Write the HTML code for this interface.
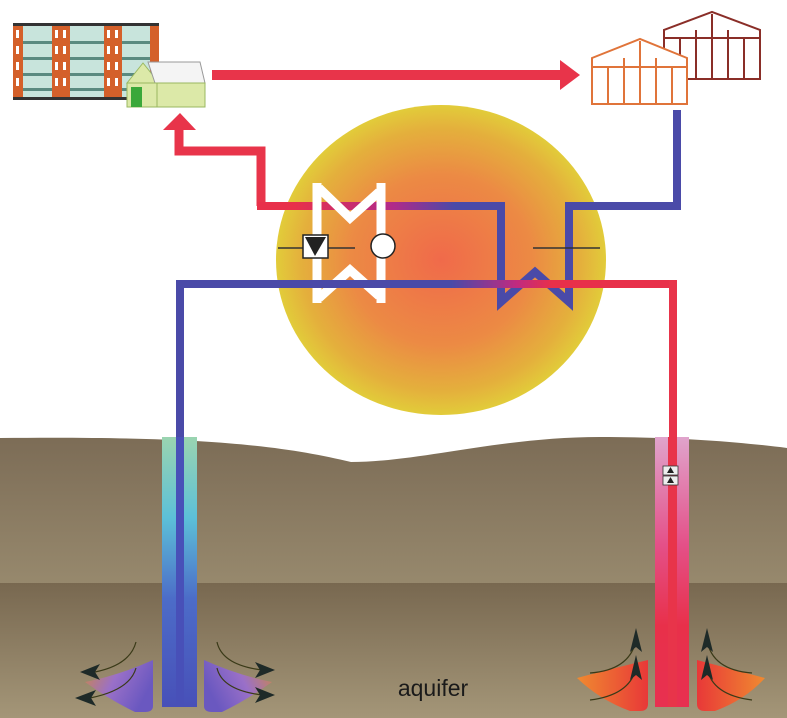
<!DOCTYPE html>
<html><head><meta charset="utf-8"><style>html,body{margin:0;padding:0;background:#fff}svg{display:block}</style></head>
<body>
<svg width="787" height="718" viewBox="0 0 787 718" xmlns="http://www.w3.org/2000/svg">
<defs>
<radialGradient id="sun" cx="0.5" cy="0.5" r="0.5">
<stop offset="0" stop-color="#f06a4a"/><stop offset="0.55" stop-color="#ec8a44"/><stop offset="0.85" stop-color="#e4b03c"/><stop offset="1" stop-color="#e2cc3a"/></radialGradient>
<linearGradient id="g1" x1="0" y1="0" x2="0" y2="1"><stop offset="0" stop-color="#7c6c56"/><stop offset="1" stop-color="#988a6e"/></linearGradient>
<linearGradient id="g2" x1="0" y1="0" x2="0" y2="1"><stop offset="0" stop-color="#786850"/><stop offset="1" stop-color="#a49678"/></linearGradient>
<linearGradient id="up" x1="0" x2="1"><stop offset="0.15" stop-color="#e8304a"/><stop offset="0.55" stop-color="#b02a8a"/><stop offset="0.8" stop-color="#4a4aa8"/></linearGradient>
<linearGradient id="lo" x1="0" x2="1"><stop offset="0.55" stop-color="#4a4aa8"/><stop offset="0.68" stop-color="#c02a80"/><stop offset="0.75" stop-color="#e8304a"/></linearGradient>
<linearGradient id="wl" x1="0" y1="0" x2="0" y2="1"><stop offset="0" stop-color="#9ad4b0"/><stop offset="0.3" stop-color="#5cc0d8"/><stop offset="0.6" stop-color="#4c6cc8"/><stop offset="1" stop-color="#4850b8"/></linearGradient>
<linearGradient id="wr" x1="0" y1="0" x2="0" y2="1"><stop offset="0" stop-color="#e0a4cc"/><stop offset="0.4" stop-color="#e45088"/><stop offset="0.7" stop-color="#e8304a"/><stop offset="1" stop-color="#e83050"/></linearGradient>
<linearGradient id="pl" x1="0" y1="0" x2="1" y2="0.4"><stop offset="0" stop-color="#d08840"/><stop offset="0.5" stop-color="#9a70c8"/><stop offset="1" stop-color="#6a58c0"/></linearGradient>
<linearGradient id="pr" x1="1" y1="0" x2="0" y2="0.4"><stop offset="0" stop-color="#d08840"/><stop offset="0.5" stop-color="#9a70c8"/><stop offset="1" stop-color="#6a58c0"/></linearGradient>
<linearGradient id="po" x1="0" y1="0" x2="1" y2="0"><stop offset="0" stop-color="#f08a30"/><stop offset="1" stop-color="#e83838"/></linearGradient>
<linearGradient id="po2" x1="1" y1="0" x2="0" y2="0"><stop offset="0" stop-color="#f08a30"/><stop offset="1" stop-color="#e83838"/></linearGradient>
</defs>

<!-- ground -->
<path d="M0 438 C200 436 280 445 351 462 C420 462 500 437 600 437 C680 437 740 442 787 448 L787 590 L0 590 Z" fill="url(#g1)"/>
<rect x="0" y="583" width="787" height="135" fill="url(#g2)"/>

<!-- sun -->
<ellipse cx="441" cy="260" rx="165" ry="155" fill="url(#sun)"/>

<!-- apartment -->
<rect x="13" y="24" width="146" height="75" fill="#c8e4dc"/>
<rect x="13" y="23" width="146" height="3" fill="#333"/>
<rect x="13" y="97" width="146" height="3" fill="#333"/>
<g fill="#5a8a80"><rect x="13" y="41" width="146" height="3"/><rect x="13" y="57" width="146" height="3"/><rect x="13" y="73" width="146" height="3"/><rect x="13" y="88" width="146" height="3"/></g>
<g fill="#d4602a"><rect x="13" y="26" width="10" height="71"/><rect x="52" y="26" width="18" height="71"/><rect x="104" y="26" width="18" height="71"/><rect x="150" y="26" width="9" height="71"/></g>
<g fill="#fff"><rect x="16" y="30" width="3" height="8"/><rect x="16" y="46" width="3" height="8"/><rect x="16" y="62" width="3" height="8"/><rect x="16" y="78" width="3" height="8"/>
<rect x="55" y="30" width="3" height="8"/><rect x="63" y="30" width="3" height="8"/><rect x="55" y="46" width="3" height="8"/><rect x="63" y="46" width="3" height="8"/><rect x="55" y="62" width="3" height="8"/><rect x="63" y="62" width="3" height="8"/><rect x="55" y="78" width="3" height="8"/><rect x="63" y="78" width="3" height="8"/>
<rect x="107" y="30" width="3" height="8"/><rect x="115" y="30" width="3" height="8"/><rect x="107" y="46" width="3" height="8"/><rect x="115" y="46" width="3" height="8"/><rect x="107" y="62" width="3" height="8"/><rect x="115" y="62" width="3" height="8"/><rect x="107" y="78" width="3" height="8"/><rect x="115" y="78" width="3" height="8"/></g>
<!-- house -->
<path d="M127 83 L143 63 L159 83 Z" fill="#dce9a8" stroke="#9ab860"/>
<path d="M148 62 L200 62 L205 83 L155 83 Z" fill="#f4f4f4" stroke="#999"/>
<rect x="127" y="83" width="78" height="24" fill="#dce9a8" stroke="#9ab860"/>
<rect x="131" y="87" width="11" height="20" fill="#3aa83a"/>
<line x1="157" y1="83" x2="157" y2="107" stroke="#9ab860"/>

<!-- top red arrow -->
<rect x="212" y="70" width="352" height="10" fill="#e8344a"/>
<polygon points="560,60 580,75 560,90" fill="#e8344a"/>

<!-- greenhouses -->
<g fill="none" stroke="#8a2e28" stroke-width="2"><path d="M664 79 L664 30 L712 12 L760 30 L760 79 Z"/><path d="M664 38 L760 38 M680 38 L680 79 M696 30 L696 79 M712 14 L712 79 M728 30 L728 79 M744 38 L744 79"/></g>
<path d="M592 104 L592 58 L640 39 L687 58 L687 104 Z" fill="#fff"/>
<g fill="none" stroke="#e0743a" stroke-width="2"><path d="M592 104 L592 58 L640 39 L687 58 L687 104 Z"/><path d="M592 67 L687 67 M608 67 L608 104 M624 58 L624 104 M640 41 L640 104 M656 58 L656 104 M672 67 L672 104"/></g>

<!-- red up arrow pipe -->
<path d="M179 130 L179 151 L261 151 L261 206" fill="none" stroke="#e8344a" stroke-width="9"/>
<polygon points="163,130 180,113 196,130" fill="#e8344a"/>
<!-- upper pipe -->
<rect x="257" y="202" width="248" height="8" fill="url(#up)"/>
<!-- blue from greenhouse -->
<path d="M677 110 L677 206 L569 206 L569 302 L535 272 L501 302 L501 206" fill="none" stroke="#4a4aa8" stroke-width="8" stroke-linejoin="miter"/>

<!-- valve white -->
<g fill="none" stroke="#fff" stroke-width="9"><path d="M317 183 L317 303 M381 183 L381 303"/><path d="M319 188 L350 218 L379 192"/><path d="M319 298 L350 270 L379 296"/></g>
<line x1="278" y1="248" x2="355" y2="248" stroke="#333" stroke-width="1.5"/>
<rect x="303" y="235" width="25" height="23" fill="#fff" stroke="#222" stroke-width="1.5"/>
<polygon points="305,237 326,237 315,256" fill="#222"/>
<ellipse cx="383" cy="246" rx="12" ry="12" fill="#fff" stroke="#222" stroke-width="1.5"/>
<line x1="533" y1="248" x2="600" y2="248" stroke="#333" stroke-width="1.5"/>

<!-- lower pipe -->
<rect x="176" y="280" width="501" height="8" fill="url(#lo)"/>
<rect x="176" y="280" width="8" height="160" fill="#4a4aa8"/>
<rect x="669" y="280" width="8" height="160" fill="#e8344a"/>

<!-- wells -->
<rect x="162" y="437" width="35" height="270" fill="url(#wl)"/>
<rect x="176" y="437" width="8" height="270" fill="#4850b8"/>
<rect x="655" y="437" width="34" height="270" fill="url(#wr)"/>
<rect x="668" y="437" width="9" height="270" fill="#e8344a"/>
<rect x="663" y="466" width="15" height="9" fill="#eee" stroke="#333" stroke-width="0.8"/>
<rect x="663" y="476" width="15" height="9" fill="#eee" stroke="#333" stroke-width="0.8"/>
<polygon points="667,473 670.5,467 674,473" fill="#222"/><polygon points="667,483 670.5,477 674,483" fill="#222"/>

<!-- plumes left -->
<path d="M85 682 Q120 675 153 660 L153 706 Q153 712 145 712 L135 712 Q110 700 85 682 Z" fill="url(#pl)"/>
<path d="M272 682 Q237 675 204 660 L204 706 Q204 712 212 712 L222 712 Q247 700 272 682 Z" fill="url(#pr)"/>
<g fill="none" stroke="#3a3a18" stroke-width="1.2"><path d="M136 642 Q130 665 95 672"/><path d="M136 668 Q130 690 90 698"/><path d="M217 642 Q222 665 262 670"/><path d="M217 668 Q222 690 262 695"/></g>
<g fill="#1e2a28"><polygon points="80,672 100,664 95,672 100,680"/><polygon points="75,698 96,690 91,698 96,706"/><polygon points="275,670 255,662 260,670 255,678"/><polygon points="275,695 255,687 260,695 255,703"/></g>
<!-- plumes right -->
<path d="M577 678 Q615 668 648 660 L648 704 Q648 711 640 711 L630 711 Q600 700 577 678 Z" fill="url(#po)"/>
<path d="M765 678 Q727 668 697 660 L697 704 Q697 711 705 711 L715 711 Q745 700 765 678 Z" fill="url(#po2)"/>
<g fill="none" stroke="#3a3a18" stroke-width="1.2"><path d="M590 673 Q630 670 636 640"/><path d="M590 700 Q630 695 636 668"/><path d="M752 673 Q712 670 707 640"/><path d="M752 700 Q712 695 707 668"/></g>
<g fill="#1e2a28"><polygon points="636,628 630,652 636,647 642,652"/><polygon points="636,655 630,680 636,675 642,680"/><polygon points="707,628 701,652 707,647 713,652"/><polygon points="707,655 701,680 707,675 713,680"/></g>

<text x="433" y="696" font-family="Liberation Sans, sans-serif" font-size="23" text-anchor="middle" fill="#1a1a1a">aquifer</text>
</svg>
</body></html>
